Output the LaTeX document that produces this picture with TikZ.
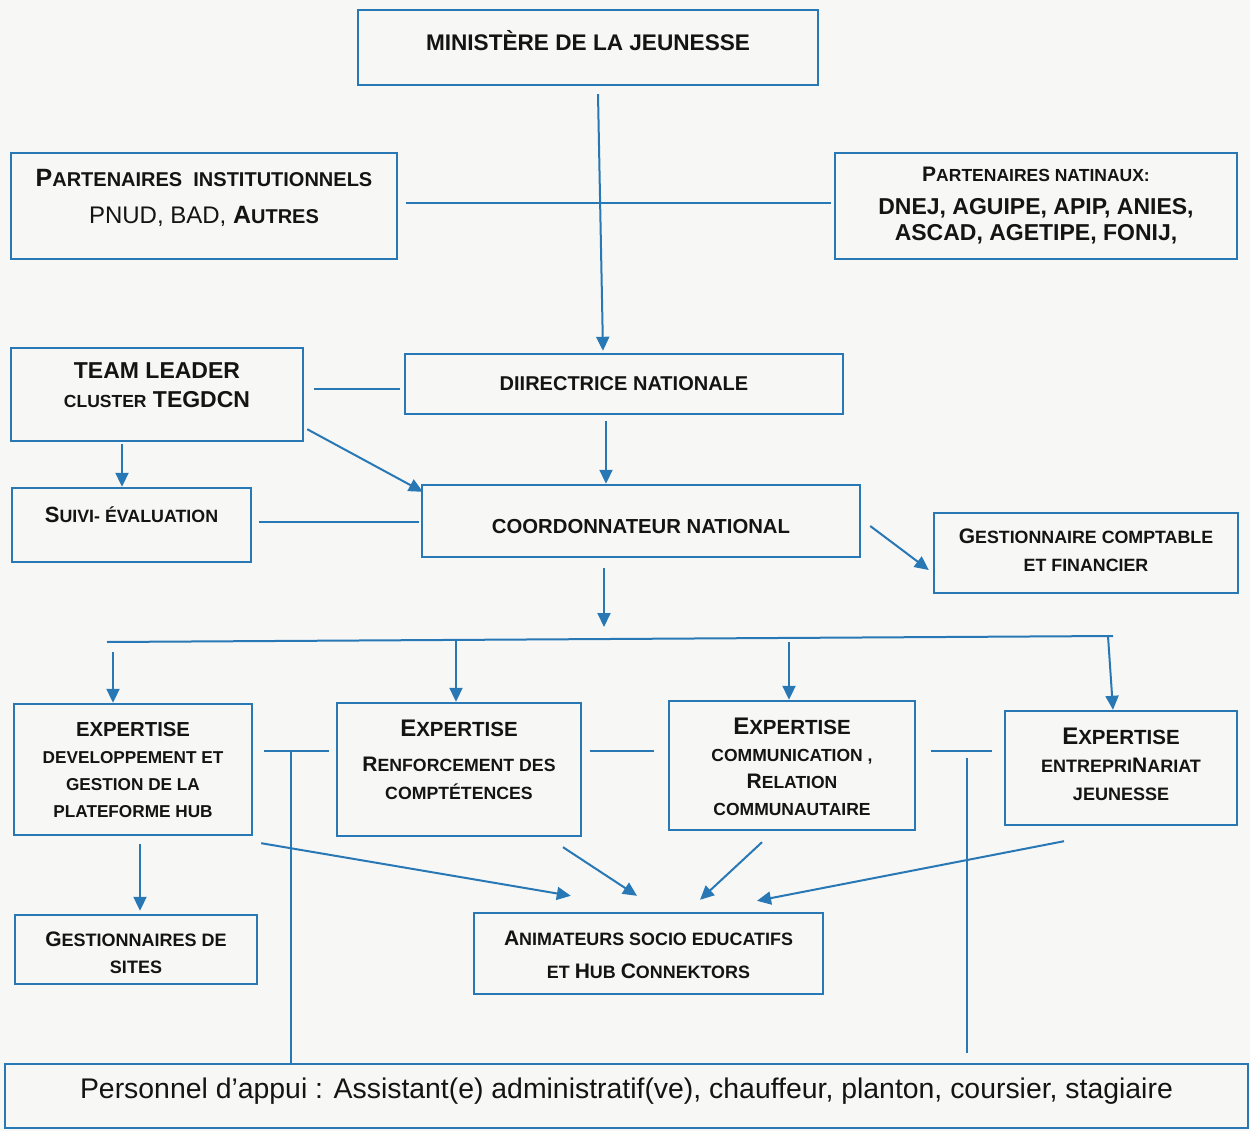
\documentclass[tikz,border=0pt]{standalone}
\usepackage{fontspec}
\setmainfont{Liberation Sans}
\usetikzlibrary{arrows.meta,calc}
\definecolor{ln}{RGB}{40,120,182}
\definecolor{bg}{RGB}{247,247,245}
\definecolor{ink}{RGB}{20,20,20}
\newcommand\fs[1]{\fontsize{#1}{#1}\selectfont}
\tikzset{
  box/.style={draw=ln, line width=2.4pt, inner sep=0pt},
  txt/.style={align=center, inner sep=0pt, text=ink},
  lnk/.style={draw=ln, line width=2pt},
  arr/.style={lnk, -{Triangle[length=14pt,width=13pt]}},
}
\begin{document}
\begin{tikzpicture}[x=1pt,y=-1pt]
\fill[bg] (0,0) rectangle (1250,1131);
\useasboundingbox (0,0) rectangle (1250,1131);

\node[box, minimum width=460pt, minimum height=75pt,
  label={[txt, font=\bfseries, yshift=7pt]center:{\fs{22.6}MINISTÈRE DE LA JEUNESSE}}] (min) at (588,47.5) {};

\node[box, minimum width=386pt, minimum height=106pt,
  label={[txt, font=\bfseries\fontsize{20}{37}\selectfont, yshift=8pt]center:{{\fs{25}P}ARTENAIRES\ \ INSTITUTIONNELS\\{\mdseries\fs{24}PNUD, BAD, }{\fs{25}A}UTRES}}] (pinst) at (204,206) {};

\node[box, minimum width=402pt, minimum height=106pt,
  label={[txt, font=\bfseries\fontsize{23}{26}\selectfont, yshift=0pt]center:{{\fs{21}P}{\fs{17.5}ARTENAIRES NATINAUX:}\\[7pt]DNEJ, AGUIPE, APIP, ANIES,\\ASCAD, AGETIPE, FONIJ,}}] (pnat) at (1036,206) {};

\node[box, minimum width=438pt, minimum height=60pt,
  label={[txt, font=\bfseries]center:{\fs{20}DIIRECTRICE NATIONALE}}] (dir) at (624,384) {};

\node[box, minimum width=292pt, minimum height=93pt,
  label={[txt, font=\bfseries\fontsize{23}{29}\selectfont, yshift=9pt]center:{TEAM LEADER\\{\fs{17.5}CLUSTER} TEGDCN}}] (tl) at (157,394.5) {};

\node[box, minimum width=239pt, minimum height=74pt,
  label={[txt, font=\bfseries\fontsize{17.8}{22}\selectfont, yshift=10pt]center:{{\fs{22}S}UIVI- ÉVALUATION}}] (suivi) at (131.5,525) {};

\node[box, minimum width=438pt, minimum height=72pt,
  label={[txt, font=\bfseries, yshift=-5.5pt]center:{\fs{20.3}COORDONNATEUR NATIONAL}}] (coord) at (641,521) {};

\node[box, minimum width=304pt, minimum height=80pt,
  label={[txt, font=\bfseries\fontsize{17.8}{28}\selectfont, yshift=3pt]center:{{\fs{21}G}ESTIONNAIRE COMPTABLE\\ET FINANCIER}}] (gest) at (1086,553) {};

\node[box, minimum width=238pt, minimum height=131pt,
  label={[txt, font=\bfseries\fontsize{17.2}{27}\selectfont]center:{{\fs{20.3}EXPERTISE}\\DEVELOPPEMENT ET\\GESTION DE LA\\PLATEFORME HUB}}] (e1) at (133,769.5) {};

\node[box, minimum width=244pt, minimum height=133pt,
  label={[txt, font=\bfseries\fontsize{17.7}{28}\selectfont, yshift=10pt]center:{{\fs{24}E}{\fs{20.5}XPERTISE}\\[7pt]{\fs{21}R}ENFORCEMENT DES\\COMPTÉTENCES}}] (e2) at (459,769.5) {};

\node[box, minimum width=246pt, minimum height=129pt,
  label={[txt, font=\bfseries\fontsize{17.5}{27}\selectfont, yshift=-1.5pt]center:{{\fs{24}E}{\fs{20.5}XPERTISE}\\COMMUNICATION ,\\{\fs{21}R}ELATION\\COMMUNAUTAIRE}}] (e3) at (792,765.5) {};

\node[box, minimum width=232pt, minimum height=114pt,
  label={[txt, font=\bfseries\fontsize{18}{28}\selectfont, yshift=4pt]center:{{\fs{24}E}{\fs{20.5}XPERTISE}\\ENTREPRI{\fs{21}N}ARIAT\\JEUNESSE}}] (e4) at (1121,768) {};

\node[box, minimum width=242pt, minimum height=69pt,
  label={[txt, font=\bfseries\fontsize{18}{27}\selectfont, yshift=-3.5pt]center:{{\fs{21}G}ESTIONNAIRES DE\\SITES}}] (gsites) at (136,949.5) {};

\node[box, minimum width=349pt, minimum height=81pt,
  label={[txt, font=\bfseries\fontsize{17.9}{33}\selectfont, yshift=-1.5pt]center:{{\fs{21}A}NIMATEURS SOCIO EDUCATIFS\\ET {\fs{21}H}UB {\fs{21}C}ONNEKTORS}}] (anim) at (648.5,953.5) {};

\node[box, minimum width=1243pt, minimum height=64pt,
  label={[txt, yshift=5pt]center:{\fs{28.4}Personnel d’appui : Assistant(e) administratif(ve), chauffeur, planton, coursier, stagiaire}}] (pers) at (626.5,1096) {};

% connectors
\draw[arr] ($(min.south)+(10,8)$) -- ($(dir.north)+(-21,-2)$);
\draw[lnk] ($(pinst.east)+(8,-3)$) -- ($(pnat.west)+(-3,-3)$);
\draw[lnk] ($(tl.east)+(10,-5.5)$) -- ($(dir.west)+(-4,5)$);
\draw[arr] ($(tl.south)+(-35,2)$) -- ($(suivi.north)+(-9.5,0)$);
\draw[lnk] ($(suivi.east)+(7,-3)$) -- ($(coord.west)+(-2,1)$);
\draw[arr] ($(tl.south east)+(3,-13)$) -- ($(coord.north west)+(2,8)$);
\draw[arr] ($(dir.south)+(-18,6)$) -- ($(coord.north)+(-35,0)$);
\draw[arr] ($(coord.east)+(9,5)$) -- ($(gest.west)+(-4,17)$);
\coordinate (bt) at (604,627);
\draw[arr] ($(coord.south)+(-37,10)$) -- (bt);
\coordinate (bl) at (107,642);
\coordinate (br) at (1113,636);
\draw[lnk] (bl) -- (br);
\coordinate (d1) at (113,652);
\coordinate (d2) at (456,640);
\coordinate (d3) at (789,642);
\coordinate (d4) at (1108,636);
\draw[arr] (d1) -- ($(e1.north)+(-20,0)$);
\draw[arr] (d2) -- ($(e2.north)+(-3,0)$);
\draw[arr] (d3) -- ($(e3.north)+(-3,0)$);
\draw[arr] (d4) -- ($(e4.north)+(-8,0)$);
\draw[lnk] ($(e1.east)+(11,-18.5)$) -- ($(e2.west)+(-7,-18.5)$);
\coordinate (v1) at (291,751);
\draw[lnk] (v1) -- ($(pers.north)+(-335.5,0)$);
\draw[lnk] ($(e2.east)+(8,-18.5)$) -- ($(e3.west)+(-14,-14.5)$);
\draw[lnk] ($(e3.east)+(15,-14.5)$) -- ($(e4.west)+(-12,-17)$);
\coordinate (v2) at (967,758);
\draw[lnk] (v2) -- ($(pers.north)+(340.5,-10)$);
\draw[arr] ($(e1.south)+(7,8)$) -- ($(gsites.north)+(4,-3)$);
\draw[arr] ($(e1.south east)+(8,7)$) -- ($(anim.north west)+(98,-16)$);
\draw[arr] ($(e2.south)+(104,10)$) -- ($(anim.north)+(-11.5,-16)$);
\draw[arr] ($(e3.south)+(-30,11)$) -- ($(anim.north)+(51.5,-12)$);
\draw[arr] ($(e4.south)+(-57,15)$) -- ($(anim.north)+(108.5,-11)$);
\end{tikzpicture}
\end{document}
